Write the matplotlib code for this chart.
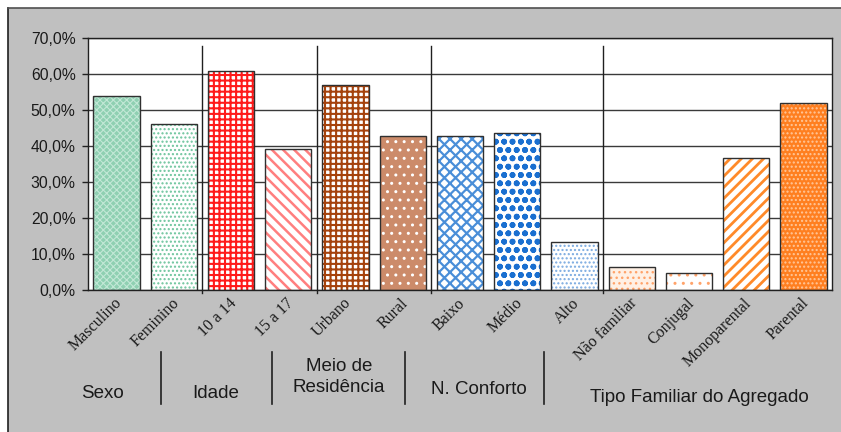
import matplotlib

matplotlib.use("Agg")
import matplotlib.pyplot as plt  # noqa: E402
from matplotlib.lines import Line2D  # noqa: E402
from matplotlib.patches import Rectangle  # noqa: E402
from matplotlib.ticker import FuncFormatter, MultipleLocator  # noqa: E402

W, H, DPI = 841, 432, 100

categories = ["Masculino", "Feminino", "10 a 14", "15 a 17", "Urbano", "Rural",
              "Baixo", "Médio", "Alto", "Não familiar", "Conjugal",
              "Monoparental", "Parental"]
values = [53.8, 46.1, 60.7, 39.1, 57.0, 42.7, 42.7, 43.7, 13.3, 6.5, 4.6, 36.8, 51.9]

groups = ["Sexo", "Idade", "Meio de\nResidência", "N. Conforto",
          "Tipo Familiar do Agregado"]
group_breaks = [1.5, 3.5, 5.5, 8.5]

# (face, hatch colour, hatch, hatch width) per bar, Excel-style pattern fills
fills = [
    ("#8fd0b2", "#c2e8d6", "xxxxx", 0.8),
    ("white", "#6cc49c", "....", 1.0),
    ("white", "#ff1a1a", "+++", 1.5),
    ("white", "#ff7f7f", "\\\\\\", 1.8),
    ("white", "#a5420c", "+++", 1.5),
    ("#cc8b6a", "white", "..", 1.0),
    ("white", "#4a8ed8", "xxx", 1.6),
    ("white", "#1a6fd0", "oo", 1.8),
    ("white", "#7aaae0", "....", 1.0),
    ("#fff0e4", "#ffa36a", "...", 1.0),
    ("white", "#ffa36a", "..", 1.0),
    ("white", "#ff8a2a", "///", 2.0),
    ("#ff7f20", "#ffc79a", "....", 1.0),
]

GRAY_BG = "#c0c0c0"
INK = "#1a1a1a"
GRID = "#3a3a3a"


def fx(px):
    return px / W


def fy(py):
    return 1 - py / H


fig = plt.figure(figsize=(W / DPI, H / DPI), dpi=DPI, facecolor="white")

# grey chart frame, kept behind the axes
fig.patches.append(Rectangle((fx(8), 0), 1, fy(8), transform=fig.transFigure,
                             facecolor=GRAY_BG, edgecolor="none", zorder=-5))
fig.lines.append(Line2D([fx(8), fx(8)], [0, fy(8)], transform=fig.transFigure,
                        color="#202020", lw=1.2))
fig.lines.append(Line2D([fx(8), 1], [fy(8), fy(8)], transform=fig.transFigure,
                        color="#505050", lw=1.2))

ax = fig.add_axes([fx(88), fy(290), fx(832) - fx(88), fy(38) - fy(290)])
ax.set_facecolor("white")
x = list(range(len(categories)))
for xi, v, (face, hc, hatch, hlw) in zip(x, values, fills):
    with plt.rc_context({"hatch.linewidth": hlw}):
        bars = ax.bar(xi, v, width=0.81, color=face, edgecolor=hc, hatch=hatch,
                      linewidth=0, zorder=2)
    for p in bars:
        if hasattr(p, "set_hatch_linewidth"):
            p.set_hatch_linewidth(hlw)
    ax.bar(xi, v, width=0.81, fill=False, edgecolor="#303030",
           linewidth=1.0, zorder=3)

ax.set_xlim(-0.5, len(categories) - 0.5)
ax.set_ylim(0, 70)
ax.yaxis.set_major_locator(MultipleLocator(10))
ax.yaxis.set_major_formatter(FuncFormatter(lambda v, _: f"{v:.1f}%".replace(".", ",")))
ax.grid(True, axis="y", color=GRID, linewidth=1.0, zorder=1)
ax.set_axisbelow(True)
for side in ("top", "right", "left", "bottom"):
    ax.spines[side].set_color("#202020")
    ax.spines[side].set_linewidth(1.0)
ax.tick_params(axis="y", direction="out", length=4, width=1, color="#202020",
               labelsize=11.3, labelcolor=INK, pad=5)
for lab in ax.get_yticklabels():
    lab.set_fontfamily("Liberation Sans")

ax.set_xticks(x)
ax.set_xticklabels([])
ax.tick_params(axis="x", length=0)
for xi, name in zip(x, categories):
    ax.text(xi + 0.05, -3.0, name, rotation=45, rotation_mode="anchor",
            ha="right", va="center", fontsize=11.5,
            family="Liberation Serif", color=INK, clip_on=False)

# category separators inside the plot
for b in group_breaks:
    ax.plot([b, b], [0.97, -0.012], transform=ax.get_xaxis_transform(),
            color="#202020", lw=1.0, clip_on=False, zorder=4)

# group captions under the axis
for sx in [161, 272, 405, 544]:
    fig.lines.append(Line2D([fx(sx), fx(sx)], [fy(352), fy(404)],
                            transform=fig.transFigure, color="#202020", lw=1.2))

group_pos = [(102, 393), (216, 393), (339, 377), (479, 389), (699, 398)]
for name, (gx, gy) in zip(groups, group_pos):
    fig.text(fx(gx), fy(gy), name, ha="center", va="center", fontsize=13.5,
             family="Liberation Sans", color=INK, linespacing=1.25)

fig.savefig("out.png", dpi=DPI, facecolor="white")
